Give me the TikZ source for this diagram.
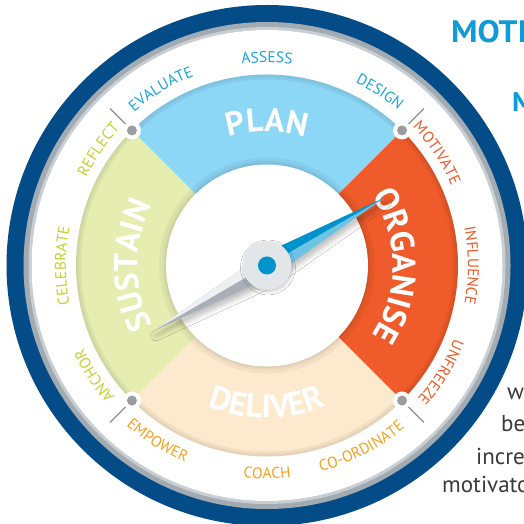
\documentclass[tikz,border=0pt]{standalone}
\usepackage{fontspec}
\setmainfont{PT Sans}
\newfontfamily\headfont[FakeStretch=1.07]{PT Sans}
\usetikzlibrary{decorations.text,shadows.blur,calc}

\definecolor{ringblue}{HTML}{034C88}
\definecolor{ringgray}{HTML}{A2AAB2}
\definecolor{ringgraylight}{HTML}{C9CED3}
\definecolor{planfill}{HTML}{8CD6F6}
\definecolor{organisefill}{HTML}{EF5B2A}
\definecolor{deliverfill}{HTML}{FDE9CD}
\definecolor{sustainfill}{HTML}{E6EDB1}
\definecolor{plantext}{HTML}{1BA5DE}
\definecolor{organisetext}{HTML}{EE5A2B}
\definecolor{delivertext}{HTML}{F6A21F}
\definecolor{sustaintext}{HTML}{C2D22C}
\definecolor{pingray}{HTML}{9A9CA0}
\definecolor{pinline}{HTML}{8C8F93}
\definecolor{needledark}{HTML}{0093CC}
\definecolor{needlelight}{HTML}{6CC3E4}
\definecolor{taillight}{HTML}{EEEFF0}
\definecolor{taildark}{HTML}{A8AFB6}
\definecolor{pivotgray}{HTML}{E3E6E9}
\definecolor{headblue}{HTML}{0F9BD6}
\definecolor{bodygray}{HTML}{3A3A3C}

\newcommand\smalllabelfont{\fontsize{15.5}{15.5}\selectfont}
\newcommand\biglabelfont{\bfseries\fontsize{33}{33}\selectfont}

% text read clockwise along an arc (letter tops point outwards)
% #1 centre angle, #2 baseline radius, #3 colour, #4 font, #5 text
\newcommand\cwarclabel[5]{%
  \path[decorate,decoration={text along path,text align=center,
        text color=#3,text={|#4|#5}}]
    ($(c)+({#1+60}:#2)$) arc[start angle={#1+60},end angle={#1-60},radius=#2];}
% text read counter-clockwise along an arc (letter tops point inwards)
\newcommand\ccwarclabel[5]{%
  \path[decorate,decoration={text along path,text align=center,
        text color=#3,text={|#4|#5}}]
    ($(c)+({#1-60}:#2)$) arc[start angle={#1-60},end angle={#1+60},radius=#2];}

\begin{document}
\begin{tikzpicture}[x=1pt,y=1pt]
\useasboundingbox (0,0) rectangle (524,524);
\clip (0,0) rectangle (524,524);
\fill[white] (0,0) rectangle (524,524);
\coordinate (c) at (267,258.5);

% outer bezel
\fill[ringblue] (c) circle[radius=260.5];
\fill[ringgray] (c) circle[radius=243.5];
\draw[ringgraylight,line width=3] (c) circle[radius=237];
\fill[white] (c) circle[radius=235.5];

% the four sectors
\fill[planfill] (c) -- ($(c)+(45:191)$) arc[start angle=45,end angle=135,radius=191] -- cycle;
\fill[sustainfill] (c) -- ($(c)+(135:191)$) arc[start angle=135,end angle=225,radius=191] -- cycle;
\fill[deliverfill] (c) -- ($(c)+(225:191)$) arc[start angle=225,end angle=315,radius=191] -- cycle;
\fill[organisefill] (c) -- ($(c)+(-45:191)$) arc[start angle=-45,end angle=45,radius=191] -- cycle;

% soft shading along both edges of the sector ring
\begin{scope}
  \clip (c) circle[radius=191];
  \draw[black,opacity=0.05,line width=10] (c) circle[radius=191];
  \draw[black,opacity=0.04,line width=5] (c) circle[radius=191];
  \draw[black,opacity=0.04,line width=14] (c) circle[radius=101];
  \draw[black,opacity=0.04,line width=7] (c) circle[radius=101];
  \draw[black,opacity=0.04,line width=3] (c) circle[radius=101];
\end{scope}

% inner dial face
\fill[white] (c) circle[radius=101];

% pins between the sectors
\foreach \a in {45,135,225,315}{
  \draw[pinline,line width=1.2] ($(c)+(\a:191)$) -- ($(c)+(\a:222)$);
  \fill[white] ($(c)+(\a:191)$) circle[radius=9];
  \fill[pingray] ($(c)+(\a:191)$) circle[radius=5];
}

% sector names
\cwarclabel{90}{134}{white}{\biglabelfont}{PLAN}
\cwarclabel{0}{126}{white}{\biglabelfont}{ORGANISE}
\ccwarclabel{270}{152.5}{white}{\biglabelfont}{DELIVER}
\cwarclabel{180}{129.5}{white}{\biglabelfont}{SUSTAIN}

% activity words round the rim
\cwarclabel{121}{203}{plantext}{\smalllabelfont}{EVALUATE}
\cwarclabel{90}{203}{plantext}{\smalllabelfont}{ASSESS}
\cwarclabel{57}{203}{plantext}{\smalllabelfont}{DESIGN}
\cwarclabel{33.5}{201}{organisetext}{\smalllabelfont}{MOTIVATE}
\cwarclabel{0}{201}{organisetext}{\smalllabelfont}{INFLUENCE}
\cwarclabel{-31.5}{201}{organisetext}{\smalllabelfont}{UNFREEZE}
\ccwarclabel{-62.5}{213}{delivertext}{\smalllabelfont}{CO-ORDINATE}
\ccwarclabel{-90}{213}{delivertext}{\smalllabelfont}{COACH}
\ccwarclabel{-122}{213}{delivertext}{\smalllabelfont}{EMPOWER}
\cwarclabel{212.5}{201}{sustaintext}{\smalllabelfont}{ANCHOR}
\cwarclabel{180}{201}{sustaintext}{\smalllabelfont}{CELEBRATE}
\cwarclabel{145.5}{201}{sustaintext}{\smalllabelfont}{REFLECT}

% needle
\coordinate (tip) at ($(c)+(30:136)$);
\coordinate (tail) at ($(c)+(210:131)$);
\coordinate (wu) at ($(c)+(120:12)$);
\coordinate (wd) at ($(c)+(-60:12)$);
\path[blur shadow={shadow xshift=2pt,shadow yshift=-5pt,shadow blur radius=5pt,shadow opacity=25}]
  (tip) -- (wu) -- (tail) -- (wd) -- cycle;
\fill[needledark] (c) -- (tip) -- (wu) -- cycle;
\fill[needlelight] (c) -- (tip) -- (wd) -- cycle;
\fill[taillight] (c) -- (tail) -- (wu) -- cycle;
\fill[taildark] (c) -- (tail) -- (wd) -- cycle;
\fill[pivotgray,blur shadow={shadow xshift=1pt,shadow yshift=-2pt,shadow blur radius=3pt,shadow opacity=20}]
  (c) circle[radius=24.5];
\fill[needledark] (c) circle[radius=9];

% neighbouring heading and body text
\node[anchor=base west,inner sep=0,text=headblue,font=\headfont\bfseries\fontsize{31}{31}\selectfont] (heading) at (451,481) {MOTI};
\node[anchor=base west,inner sep=0,text=headblue,font=\headfont\bfseries\fontsize{27}{27}\selectfont] (subheading) at (512,412.5) {M};
\begin{scope}[every node/.style={anchor=base west,inner sep=0,text=bodygray,font=\fontsize{23}{23}\selectfont}]
  \node (line1) at (507,124) {w};
  \node (line2) at (501,92) {be};
  \node (line3) at (476,59) {incre};
  \node (line4) at (442,31) {motivato};
\end{scope}
\end{tikzpicture}
\end{document}
